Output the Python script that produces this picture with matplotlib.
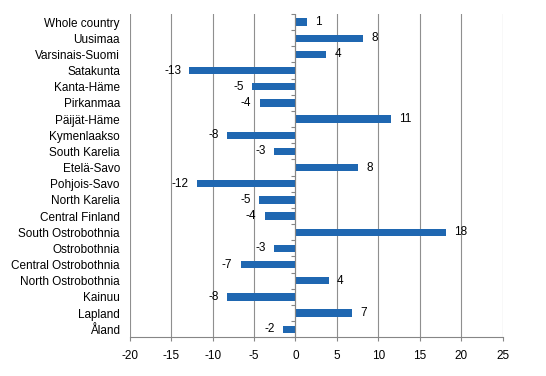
import matplotlib
matplotlib.use("Agg")
import matplotlib.pyplot as plt
import numpy as np

categories = ["Whole country", "Uusimaa", "Varsinais-Suomi", "Satakunta", "Kanta-Häme",
              "Pirkanmaa", "Päijät-Häme", "Kymenlaakso", "South Karelia", "Etelä-Savo",
              "Pohjois-Savo", "North Karelia", "Central Finland", "South Ostrobothnia",
              "Ostrobothnia", "Central Ostrobothnia", "North Ostrobothnia", "Kainuu",
              "Lapland", "Åland"]
values = [1.4, 8.2, 3.7, -12.8, -5.2, -4.3, 11.5, -8.2, -2.6, 7.6,
          -11.9, -4.4, -3.7, 18.1, -2.6, -6.6, 4.0, -8.2, 6.8, -1.5]
labels = ["1", "8", "4", "-13", "-5", "-4", "11", "-8", "-3", "8",
          "-12", "-5", "-4", "18", "-3", "-7", "4", "-8", "7", "-2"]
xticks = [-20, -15, -10, -5, 0, 5, 10, 15, 20, 25]

plt.rcParams['font.family'] = ['Liberation Sans', 'DejaVu Sans']
fs = 8.5
fig = plt.figure(figsize=(5.46, 3.76), dpi=100)
ax = fig.add_axes([0.2375, 0.1029, 0.9207 - 0.2375, 0.9628 - 0.1029])

y = np.arange(len(categories))
ax.barh(y, values, height=0.45, color='#1f67b1', zorder=3)
ax.set_ylim(len(categories) - 0.5, -0.5)
ax.set_xlim(-20, 25)
ax.set_xticks(xticks)
ax.set_xticklabels([str(t) for t in xticks], fontsize=fs)
ax.set_yticks(y)
ax.set_yticklabels(categories, fontsize=fs)
ax.tick_params(axis='y', length=0, pad=7)
ax.tick_params(axis='x', length=3, color='#868686', pad=6)
ax.xaxis.grid(True, color='#8f8f8f', linewidth=0.8, zorder=0)
for s in ['left', 'right', 'top']:
    ax.spines[s].set_visible(False)
ax.spines['bottom'].set_color('#868686')

ax.axvline(0, color='#868686', linewidth=0.8, zorder=4)
sec = ax.secondary_yaxis(20 / 45)
sec.set_yticks(np.arange(len(categories) + 1) - 0.5)
sec.set_yticklabels([])
sec.spines['left'].set_visible(False)
sec.tick_params(axis='y', length=3, color='#868686')

for yi, v, lab in zip(y, values, labels):
    if v >= 0:
        ax.annotate(lab, (v, yi), xytext=(6, 0), textcoords='offset points',
                    ha='left', va='center', fontsize=fs)
    else:
        ax.annotate(lab, (v, yi), xytext=(-6, 0), textcoords='offset points',
                    ha='right', va='center', fontsize=fs)

fig.savefig("out.png", dpi=100)
